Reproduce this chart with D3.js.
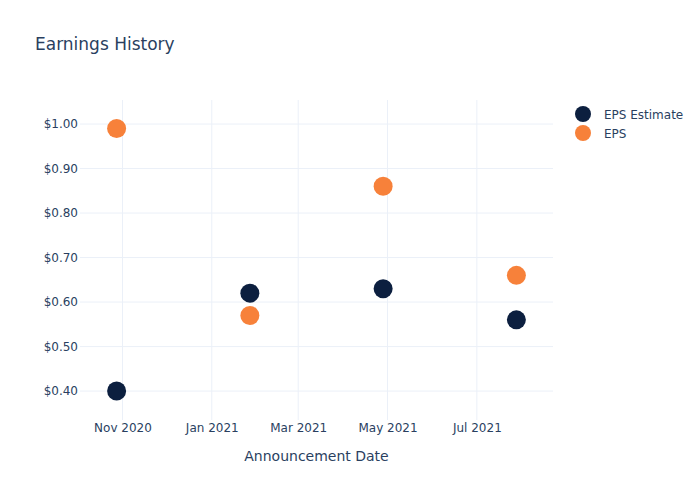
<!DOCTYPE html>
<html><head><meta charset="utf-8">
<script src="https://cdn.jsdelivr.net/npm/d3@7"></script>
<style>body{margin:0;background:#fff;} svg{display:block;font-family:"DejaVu Sans",sans-serif;}</style>
</head><body>
<svg id="chart" width="700" height="500"></svg>
<script>
const dates = ["2020-10-28", "2021-01-27", "2021-04-28", "2021-07-28"];
const epsEstimate = [0.40, 0.62, 0.63, 0.56];
const eps = [0.99, 0.57, 0.86, 0.66];
const yTicks = [0.40, 0.50, 0.60, 0.70, 0.80, 0.90, 1.00];
const xTickDates = ["2020-11-01", "2021-01-01", "2021-03-01", "2021-05-01", "2021-07-01"];
const seriesNames = ["EPS Estimate", "EPS"];
const colors = ["#0c1f3f", "#f7813a"];

const parse = d3.utcParse("%Y-%m-%d");
const svg = d3.select("#chart");
const m = {l: 80, r: 147, t: 100, b: 80};
const W = 700, H = 500;
const pw = W - m.l - m.r, ph = H - m.t - m.b;
const txt = "#2a3f5f", grid = "#ebf0f8";

const x = d3.scaleUtc().domain([parse("2020-10-03"), parse("2021-08-22")]).range([m.l, m.l + pw]);
const y = d3.scaleLinear().domain([0.335, 1.054]).range([m.t + ph, m.t]);

// grid
svg.append("g").selectAll("line").data(xTickDates).join("line")
  .attr("x1", d => x(parse(d))).attr("x2", d => x(parse(d)))
  .attr("y1", m.t).attr("y2", m.t + ph).attr("stroke", grid).attr("stroke-width", 1);
svg.append("g").selectAll("line").data(yTicks).join("line")
  .attr("x1", m.l).attr("x2", m.l + pw)
  .attr("y1", d => y(d)).attr("y2", d => y(d)).attr("stroke", grid).attr("stroke-width", 1);

const xa = d3.axisBottom(x).tickValues(xTickDates.map(parse)).tickFormat(d3.utcFormat("%b %Y")).tickSize(0).tickPadding(3);
const gx = svg.append("g").attr("transform", `translate(0,${m.t + ph})`).call(xa);
gx.select(".domain").remove();
gx.selectAll("text").attr("fill", txt).style("font-size", "12px").style("font-family", "DejaVu Sans");

const ya = d3.axisLeft(y).tickValues(yTicks).tickFormat(d => "$" + d.toFixed(2)).tickSize(0).tickPadding(2);
const gy = svg.append("g").attr("transform", `translate(${m.l},0)`).call(ya);
gy.select(".domain").remove();
gy.selectAll("text").attr("fill", txt).style("font-size", "12px").style("font-family", "DejaVu Sans");

// points
[epsEstimate, eps].forEach((vals, i) => {
  svg.append("g").selectAll("circle").data(vals).join("circle")
    .attr("cx", (d, j) => x(parse(dates[j])))
    .attr("cy", d => y(d))
    .attr("r", 9.5)
    .attr("fill", colors[i]);
});

// title
svg.append("text").attr("x", 35).attr("y", 50).attr("fill", txt).style("font-size", "17px").text("Earnings History");
// axis title
svg.append("text").attr("x", m.l + pw / 2).attr("y", 461).attr("text-anchor", "middle")
  .attr("fill", txt).style("font-size", "14px").text("Announcement Date");

// legend
const lg = svg.append("g");
seriesNames.forEach((n, i) => {
  lg.append("circle").attr("cx", 583).attr("cy", 114 + i * 19).attr("r", 8).attr("fill", colors[i]);
  lg.append("text").attr("x", 604).attr("y", 114 + i * 19 + 4.5).attr("fill", txt).style("font-size", "12px").text(n);
});
</script>
</body></html>
